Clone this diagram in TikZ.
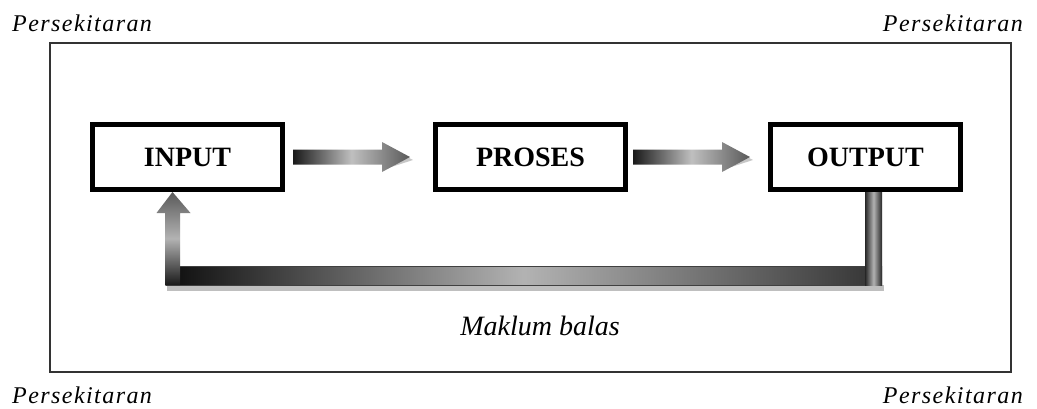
\documentclass[tikz,border=0pt]{standalone}
\usepackage{fontspec}
\setmainfont{Liberation Serif}
\usetikzlibrary{calc}
\newcommand\hfat[2]{%
  \fill[black!22] ($(#1)+(3,4.5)$) -- ($(#2)+(-25,4.5)$) -- ($(#2)+(-25,12)$) -- ($(#2)+(3,3)$) -- ($(#2)+(-25,-12)$) -- ($(#2)+(-25,-4.5)$) -- ($(#1)+(3,-4.5)$) -- cycle;
  \shade[left color=black!90, right color=black!65, middle color=black!25]
    ($(#1)+(0,-7.5)$) -- ($(#2)+(-28,-7.5)$) -- ($(#2)+(-28,-15)$) -- (#2) --
    ($(#2)+(-28,15)$) -- ($(#2)+(-28,7.5)$) -- ($(#1)+(0,7.5)$) -- cycle;}
\tikzset{
  boxnode/.style={draw=black, line width=5pt, fill=white, minimum width=190pt,
    minimum height=65pt, inner sep=0pt, font=\fontsize{28}{30}\selectfont\bfseries},
  envlabel/.style={inner sep=0pt, font=\fontsize{24}{26}\selectfont\itshape\addfontfeature{LetterSpace=6}},
  fblabel/.style={inner sep=0pt, font=\fontsize{28}{30}\selectfont\itshape}
}
\begin{document}
\begin{tikzpicture}[x=1pt,y=-1pt]
\useasboundingbox (0,0) rectangle (1037,408);
\fill[white] (0,0) rectangle (1037,408);
% environment frame
\draw[black!80, line width=1.6pt] (50,43) rectangle (1011,372);
\node[envlabel, anchor=base west] (tl) at (12,31) {Persekitaran};
\node[envlabel, anchor=base east] (tr) at (1023,31) {Persekitaran};
\node[envlabel, anchor=base west] (bl) at (12,403) {Persekitaran};
\node[envlabel, anchor=base east] (br) at (1023,403) {Persekitaran};
% boxes
\node[boxnode] (in) at (187.5,157) {INPUT};
\node[boxnode] (pr) at (530.5,157) {PROSES};
\node[boxnode] (out) at (865.5,157) {OUTPUT};
% forward arrows
\coordinate (a1s) at ($(in.east)+(8,0)$);
\coordinate (a1e) at ($(pr.west)+(-23,0)$);
\coordinate (a2s) at ($(pr.east)+(5,0)$);
\coordinate (a2e) at ($(out.west)+(-18,0)$);
\hfat{a1s}{a1e}
\hfat{a2s}{a2e}
% feedback loop
\coordinate (fo) at ($(out.south)+(8,0)$);
\coordinate (fi) at ($(in.south)+(-15,0)$);
\coordinate (fy) at (0,275.5);
% shadow of bottom bar
\fill[black!25] ($(fi|-fy)+(-6,9.5)$) rectangle ($(fo|-fy)+(10,15)$);
% horizontal bar
\shade[left color=black!95, right color=black!80, middle color=black!30]
  ($(fi|-fy)+(-7,-9.5)$) rectangle ($(fo|-fy)+(8.5,9.5)$);
\draw[black!75, line width=1pt] ($(fi|-fy)+(-7,-9.5)$) -- ($(fo|-fy)+(8.5,-9.5)$);
\draw[black!75, line width=1pt] ($(fi|-fy)+(-7,9.5)$) -- ($(fo|-fy)+(8.5,9.5)$);
% right vertical bar
\shade[left color=black!85, right color=black!85, middle color=black!30]
  ($(fo)+(-8.5,0)$) rectangle ($(fo|-fy)+(8.5,9.5)$);
% left vertical arrow
\shade[top color=black!65, bottom color=black!90, middle color=black!30]
  ($(fi|-fy)+(-7.5,9.5)$) -- ($(fi)+(-7.5,21)$) -- ($(fi)+(-16,21)$) -- (fi) --
  ($(fi)+(18,21)$) -- ($(fi)+(7.5,21)$) -- ($(fi|-fy)+(7.5,9.5)$) -- cycle;
\node[fblabel, anchor=base] (mb) at (540,335) {Maklum balas};
\end{tikzpicture}
\end{document}
